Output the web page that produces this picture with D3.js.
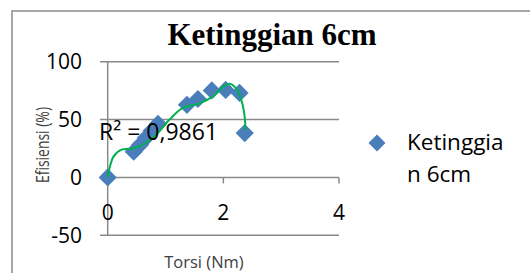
<!DOCTYPE html>
<html><head><meta charset="utf-8">
<script src="https://cdn.jsdelivr.net/npm/d3@7"></script>
<style>body{margin:0;background:#fff}svg{display:block}</style>
</head><body>
<svg id="c" width="530" height="273"></svg>
<script>
const title = "Ketinggian 6cm";
const seriesName = ["Ketinggia", "n 6cm"];
const xLabel = "Torsi (Nm)";
const yLabel = "Efisiensi (%)";
const r2Label = "R² = 0,9861";
const xTicks = [0, 2, 4];
const yTicks = [-50, 0, 50, 100];
const torsi = [0, 0.45, 0.56, 0.66, 0.76, 0.87, 1.37, 1.56, 1.80, 2.04, 2.28, 2.37];
const efisiensi = [0, 22.2, 28.2, 34.2, 40.3, 46.3, 62.7, 67.8, 75.2, 75.6, 73.0, 38.3];
const trendX = [0, 0.10, 0.24, 0.41, 0.61, 0.84, 1.07, 1.30, 1.59, 1.82, 2.0, 2.11, 2.22, 2.31, 2.37, 2.38];
const trendY = [0, 18, 24, 24.7, 28.4, 37, 50, 60, 64, 70, 78.5, 81, 77, 67, 52, 41];

const svg = d3.select("#c");
const gray = "#8a8a8a";
const blue = "#4a7ebb";
const x = d3.scaleLinear().domain([0, 4]).range([107.7, 339]);
const y = d3.scaleLinear().domain([-50, 100]).range([235.3, 61.7]);

// outer border
svg.append("rect").attr("x", 12).attr("y", 11).attr("width", 530).attr("height", 280)
  .attr("fill", "none").attr("stroke", gray).attr("stroke-width", 1.5);

// gridlines
svg.append("g").selectAll("line").data(yTicks).join("line")
  .attr("x1", 100).attr("x2", x(4)).attr("y1", d => y(d)).attr("y2", d => y(d))
  .attr("stroke", gray).attr("stroke-width", 1.5);
// y axis line
svg.append("line").attr("x1", x(0)).attr("x2", x(0)).attr("y1", y(100)).attr("y2", y(-50))
  .attr("stroke", gray).attr("stroke-width", 1.5);
// x tick marks
svg.append("g").selectAll("line").data(xTicks.slice(1)).join("line")
  .attr("x1", d => x(d)).attr("x2", d => x(d)).attr("y1", y(0)).attr("y2", y(0) + 6)
  .attr("stroke", gray).attr("stroke-width", 1.5);

const font = "'Open Sans', sans-serif";
// y tick labels
svg.append("g").selectAll("text").data(yTicks).join("text")
  .attr("x", 82).attr("y", d => y(d) + 7.5).attr("text-anchor", "end")
  .attr("font-family", font).attr("font-size", 21).attr("fill", "#000").text(d => d);
// x tick labels
svg.append("g").selectAll("text").data(xTicks).join("text")
  .attr("x", d => x(d)).attr("y", 220).attr("text-anchor", "middle")
  .attr("font-family", font).attr("font-size", 21).attr("fill", "#000").text(d => d);

// title
svg.append("text").attr("x", 272).attr("y", 45).attr("text-anchor", "middle")
  .attr("font-family", "'Liberation Serif', 'Times New Roman', serif").attr("font-weight", "bold")
  .attr("font-size", 31).text(title);

// axis titles
svg.append("text").attr("transform", "translate(49,145) rotate(-90)")
  .attr("text-anchor", "middle").attr("font-family", font).attr("font-size", 19)
  .attr("fill", "#404040").attr("textLength", 76).attr("lengthAdjust", "spacingAndGlyphs").text(yLabel);
svg.append("text").attr("x", 204).attr("y", 268).attr("text-anchor", "middle")
  .attr("font-family", font).attr("font-size", 16.5).attr("fill", "#404040").text(xLabel);

// markers
const sym = d3.symbol().type(d3.symbolSquare).size(165);
const pts = torsi.map((d, i) => [d, efisiensi[i]]);
svg.append("g").selectAll("path").data(pts).join("path")
  .attr("d", sym).attr("transform", d => `translate(${x(d[0])},${y(d[1])}) rotate(45)`)
  .attr("fill", blue);

// trendline
const trend = trendX.map((d, i) => [d, trendY[i]]);
svg.append("path").datum(trend)
  .attr("d", d3.line().x(d => x(d[0])).y(d => y(d[1])).curve(d3.curveCatmullRom.alpha(0.5)))
  .attr("fill", "none").attr("stroke", "#00b050").attr("stroke-width", 2);

// R² label
svg.append("text").attr("x", 99).attr("y", 140).attr("font-family", font)
  .attr("font-size", 23).attr("fill", "#000").text(r2Label);

// legend
svg.append("path").attr("d", d3.symbol().type(d3.symbolSquare).size(145))
  .attr("transform", "translate(377,143) rotate(45)").attr("fill", blue);
svg.append("g").selectAll("text").data(seriesName).join("text")
  .attr("x", 407).attr("y", (d, i) => 150 + i * 32)
  .attr("font-family", font).attr("font-size", 22.5).attr("fill", "#000").text(d => d);
</script>
</body></html>
